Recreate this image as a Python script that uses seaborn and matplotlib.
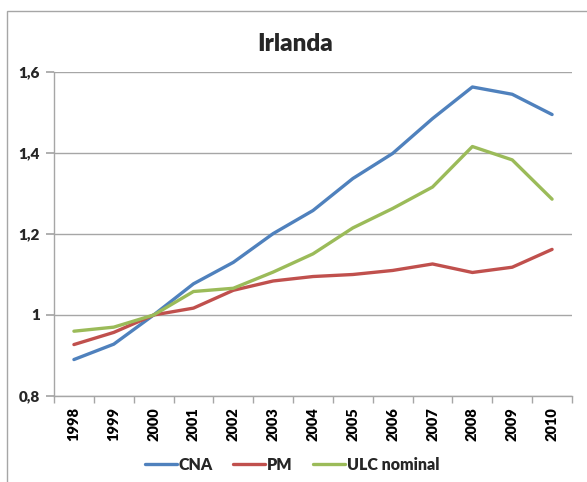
import matplotlib
matplotlib.use("Agg")
import matplotlib.pyplot as plt
import matplotlib.ticker as mticker
from matplotlib.patches import Rectangle
import seaborn as sns
import pandas as pd
import numpy as np

years = [str(y) for y in range(1998, 2011)]
cna = [0.890, 0.928, 1.000, 1.077, 1.130, 1.201, 1.258, 1.337, 1.399, 1.485, 1.563, 1.545, 1.495]
pm = [0.927, 0.957, 1.000, 1.017, 1.061, 1.084, 1.095, 1.100, 1.110, 1.126, 1.105, 1.118, 1.162]
ulc = [0.960, 0.970, 1.000, 1.058, 1.066, 1.106, 1.151, 1.215, 1.263, 1.316, 1.416, 1.383, 1.286]
series_names = ["CNA", "PM", "ULC nominal"]
colors = ["#4F81BD", "#C0504D", "#9BBB59"]
ytick_vals = [0.8, 1.0, 1.2, 1.4, 1.6]
ytick_labels = ["0,8", "1", "1,2", "1,4", "1,6"]

sns.set_theme(style="white")
plt.rcParams['font.family'] = ['Lato', 'DejaVu Sans']

df = pd.DataFrame({
    "Year": years * 3,
    "Value": cna + pm + ulc,
    "Series": [series_names[0]] * 13 + [series_names[1]] * 13 + [series_names[2]] * 13,
})

W, H = 587, 482
fig = plt.figure(figsize=(W / 100, H / 100), dpi=100)
fig.patches.append(Rectangle((7 / W, -0.1), 1.2, 1.1 - 11 / H, transform=fig.transFigure,
                             fill=False, edgecolor="#A6A6A6", linewidth=1.0, clip_on=False))

ax = fig.add_axes([54 / W, 1 - 396 / H, (572 - 54) / W, (396 - 72) / H])
sns.lineplot(data=df, x="Year", y="Value", hue="Series", palette=colors,
             linewidth=2.4, ax=ax, sort=False, legend=False)

ax.set_xlim(-0.5, 12.5)
ax.set_ylim(0.8, 1.6)
ax.set_xlabel("")
ax.set_ylabel("")
ax.set_yticks(ytick_vals)
ax.set_yticklabels(ytick_labels, fontweight="heavy", fontsize=11)
ax.set_xticks(range(len(years)))
ax.set_xticklabels(years, rotation=90, fontweight="heavy", fontsize=10.5)
ax.xaxis.set_minor_locator(mticker.FixedLocator(np.arange(-0.5, 13, 1)))
ax.tick_params(axis="x", which="major", length=0, pad=8, colors="black")
ax.tick_params(axis="x", which="minor", length=5, direction="out", color="#A6A6A6", bottom=True)
ax.tick_params(axis="y", which="major", length=6, direction="out", color="#A6A6A6", left=True, pad=4)
ax.grid(axis="y", color="#A6A6A6", linewidth=1.0)
ax.set_axisbelow(True)
for s in ["top", "right"]:
    ax.spines[s].set_visible(False)
for s in ["left", "bottom"]:
    ax.spines[s].set_color("#A6A6A6")
    ax.spines[s].set_linewidth(1.0)

ax.set_title("Irlanda", fontsize=17.5, fontweight="heavy", pad=15, x=(295 - 54) / (572 - 54))

handles = [plt.Line2D([], [], color=c, linewidth=2.4) for c in colors]
fig.legend(handles, series_names, loc="center", bbox_to_anchor=(292 / W, 1 - 465 / H), ncol=3,
           frameon=False, handlelength=2.0, handletextpad=0.1, columnspacing=1.3,
           prop={"weight": "heavy", "size": 11.5})

fig.savefig("out.png", dpi=100, facecolor="white")
